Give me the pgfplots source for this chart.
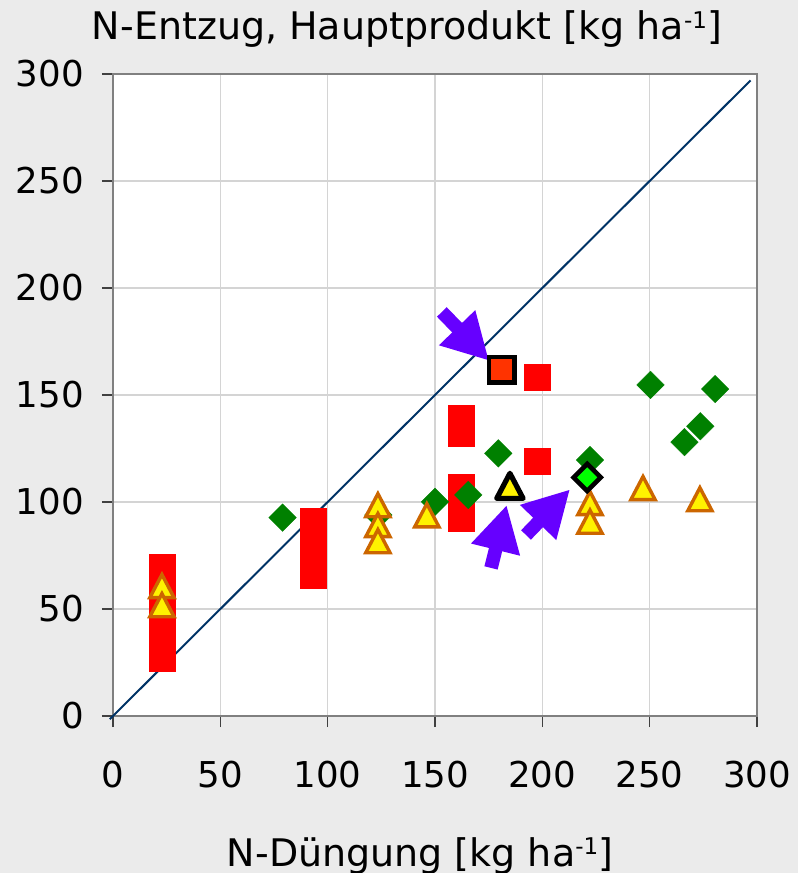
\documentclass[border=0pt]{standalone}
\usepackage{fontspec}
\setmainfont{DejaVu Sans}
\usepackage{pgfplots}
\pgfplotsset{compat=1.18}
\usetikzlibrary{arrows.meta}
\definecolor{bgc}{RGB}{235,235,235}
\definecolor{gridc}{RGB}{212,212,212}
\definecolor{axc}{RGB}{128,128,128}
\definecolor{diag}{RGB}{0,51,102}
\definecolor{dgreen}{RGB}{0,128,0}
\definecolor{tried}{RGB}{204,102,0}
\definecolor{hired}{RGB}{255,51,0}
\definecolor{arrowc}{RGB}{102,0,255}
\newcommand{\supm}{\raisebox{5.6pt}{\fontsize{11.5}{12}\selectfont -1}}
\begin{document}
\begin{tikzpicture}
\path[use as bounding box, fill=bgc] (-56.5pt,-78.5pt) rectangle ++(399pt,436.5pt);
\begin{axis}[
  at={(0,0)}, anchor=south west,
  scale only axis, width=322pt, height=321pt,
  xmin=0, xmax=300, ymin=0, ymax=300,
  xtick={0,50,...,300}, ytick={0,50,...,300},
  grid=major, major grid style={gridc, line width=0.6pt},
  axis line style={axc, line width=1.2pt},
  tick align=outside, tick pos=left,
  major tick length=5.5pt,
  tick style={black!75, line width=0.6pt},
  axis background/.style={fill=white},
  /pgf/number format/assume math mode=true,
  ticklabel style={font=\fontsize{17.8}{21}\selectfont},
  xticklabel style={yshift=-13.5pt},
  yticklabel style={xshift=-5.5pt},
  clip=false,
]
% diagonal 1:1 line
\addplot[diag, line width=1pt] coordinates {(-1.5,-1.5) (297,297)};
% red squares
\addplot[only marks, mark=square*, mark size=6.5pt, mark options={draw=red, fill=red, line width=0.1pt}] coordinates {
(22.8,69.5) (22.8,62) (22.8,55) (22.8,47) (22.8,40) (22.8,33) (22.8,27)
(93.2,91) (93.2,83) (93.2,74) (93.2,66)
(162.3,139) (162.3,132) (162.3,107) (162.3,100) (162.3,92.5)
(197.5,158.2) (197.5,119.2)
};
% green diamonds
\addplot[only marks, mark=square*, mark size=4.9pt, mark options={rotate=45, draw=dgreen, fill=dgreen, line width=0.1pt}] coordinates {
(79,92.7) (123.6,93.9) (150,100.1) (165.5,103.3) (179.5,122.7) (222.2,119.6)
(250.4,154.7) (266.2,128.0) (273.6,135.4) (280.5,152.8)
};
% yellow triangles
\addplot[only marks, mark=triangle*, mark size=7.0pt, mark options={yscale=1.1, draw=tried, fill=yellow, line width=1.7pt}] coordinates {
(22.8,58.9) (22.8,50) (123.4,96.7) (123.4,87.4) (123.4,79.9) (146.2,92)
(222.2,97.7) (222.2,89) (246.9,104.7) (273.4,99.5)
};
% highlighted points
\addplot[only marks, mark=square*, mark size=6.4pt, mark options={draw=black, fill=hired, line width=2.3pt}] coordinates {(181.2,161.7)};
\addplot[only marks, mark=triangle*, mark size=7.6pt, mark options={yscale=1.1, draw=black, fill=yellow, line width=2.6pt, line join=round}] coordinates {(184.9,105.6)};
\addplot[only marks, mark=square*, mark size=4.8pt, mark options={rotate=45, draw=black, fill=green, line width=2.3pt}] coordinates {(220.9,111.5)};
% arrows
\addplot[arrowc, line width=6.8pt, -{Triangle[length=23pt, width=23.5pt]}] coordinates {(153.2,188.8) (175.2,166.0)};
\addplot[arrowc, line width=6.8pt, -{Triangle[length=23pt, width=23.5pt]}] coordinates {(176.1,69.2) (183.4,98.6)};
\addplot[arrowc, line width=6.8pt, -{Triangle[length=23pt, width=23.5pt]}] coordinates {(192.4,84.6) (212.9,105.9)};
% titles
\node[anchor=base, font=\fontsize{19}{23}\selectfont] at (axis cs:136.9,315.9) {N-Entzug, Hauptprodukt [kg ha\supm]};
\node[anchor=base, font=\fontsize{19}{23}\selectfont] at (axis cs:143,-70.1) {N-Düngung [kg ha\supm]};
\end{axis}
\end{tikzpicture}
\end{document}
